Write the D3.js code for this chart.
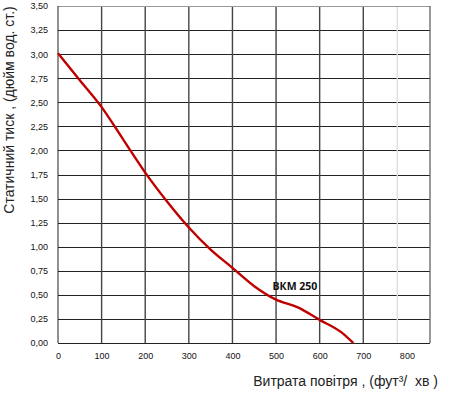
<!DOCTYPE html>
<html><head><meta charset="utf-8">
<script src="https://cdn.jsdelivr.net/npm/d3@7"></script>
<style>body{margin:0;background:#fff}svg{display:block}</style>
</head><body>
<svg id="c" width="450" height="394"></svg>
<script>
const flowValues = [0, 50, 100, 150, 200, 250, 300, 350, 400, 450, 500, 550, 600, 650, 677];
const pressureValues = [3.01, 2.73, 2.45, 2.11, 1.77, 1.47, 1.20, 0.97, 0.78, 0.59, 0.45, 0.37, 0.24, 0.11, 0.0];
const xTicks = [0, 100, 200, 300, 400, 500, 600, 700, 800];
const yTicks = [0, 0.25, 0.5, 0.75, 1, 1.25, 1.5, 1.75, 2, 2.25, 2.5, 2.75, 3, 3.25, 3.5];
const seriesLabel = "ВКМ 250";
const xTitle = "Витрата повітря , (фут³/  хв )";
const yTitle = "Статичний тиск , (дюйм вод. ст.)";

const svg = d3.select("#c");
const L = 58, R = 430, T = 6, B = 343;
const x = d3.scaleLinear().domain([0, 853]).range([L, R]);
const y = d3.scaleLinear().domain([0, 3.5]).range([B, T]);
const fmt = v => d3.format(".2f")(v).replace(".", ",");

svg.append("g").selectAll("line").data(yTicks.slice(1, -1)).join("line")
  .attr("x1", L).attr("x2", R).attr("y1", d => Math.round(y(d)) + 0.5).attr("y2", d => Math.round(y(d)) + 0.5)
  .attr("stroke", "#222").attr("stroke-width", 1);
svg.append("g").selectAll("line").data(xTicks.filter(d => d > 0 && d < 800)).join("line")
  .attr("y1", T).attr("y2", B).attr("x1", d => x(d)).attr("x2", d => x(d))
  .attr("stroke", "#444").attr("stroke-width", 1.4);
svg.append("line").attr("y1", T).attr("y2", B).attr("x1", x(778)).attr("x2", x(778))
  .attr("stroke", "#ddd").attr("stroke-width", 1.4);
svg.append("line").attr("x1", L).attr("x2", R).attr("y1", T + 0.5).attr("y2", T + 0.5).attr("stroke", "#999").attr("stroke-width", 1.2);
svg.append("line").attr("x1", R).attr("x2", R).attr("y1", T).attr("y2", B).attr("stroke", "#555").attr("stroke-width", 1.2);
svg.append("line").attr("x1", L).attr("x2", L).attr("y1", T).attr("y2", B).attr("stroke", "#222").attr("stroke-width", 1);
svg.append("line").attr("x1", L).attr("x2", R).attr("y1", B + 0.5).attr("y2", B + 0.5).attr("stroke", "#222").attr("stroke-width", 1);

const yAxis = d3.axisLeft(y).tickValues(yTicks).tickFormat(fmt).tickSize(0).tickPadding(10);
const gy = svg.append("g").attr("transform", `translate(${L},0)`).call(yAxis);
gy.select(".domain").remove();
gy.selectAll("text").attr("font-family", "Liberation Sans, Arial, sans-serif").attr("font-size", 9).attr("fill", "#111");
const xAxis = d3.axisBottom(x).tickValues(xTicks).tickFormat(d3.format("d")).tickSize(0).tickPadding(10);
const gx = svg.append("g").attr("transform", `translate(0,${B})`).call(xAxis);
gx.select(".domain").remove();
gx.selectAll("text").attr("font-family", "Liberation Sans, Arial, sans-serif").attr("font-size", 9).attr("fill", "#111");

const pts = flowValues.map((f, i) => [f, pressureValues[i]]);
svg.append("path").datum(pts)
  .attr("d", d3.line().x(d => x(d[0])).y(d => y(d[1])).curve(d3.curveMonotoneX))
  .attr("fill", "none").attr("stroke", "#c00000").attr("stroke-width", 2.4);

svg.append("text").attr("x", x(492)).attr("y", y(0.555)).text(seriesLabel)
  .attr("font-family", "Open Sans, sans-serif").attr("font-weight", "bold").attr("font-size", 10.5).attr("fill", "#111");

svg.append("text").attr("x", 438).attr("y", 386).attr("text-anchor", "end").attr("xml:space", "preserve")
  .style("white-space", "pre").text(xTitle)
  .attr("font-family", "Liberation Sans, Arial, sans-serif").attr("font-size", 14).attr("fill", "#222");
svg.append("text").attr("transform", "translate(14,110) rotate(-90)").attr("text-anchor", "middle").text(yTitle)
  .attr("font-family", "Liberation Sans, Arial, sans-serif").attr("font-size", 14).attr("fill", "#222");
</script>
</body></html>
